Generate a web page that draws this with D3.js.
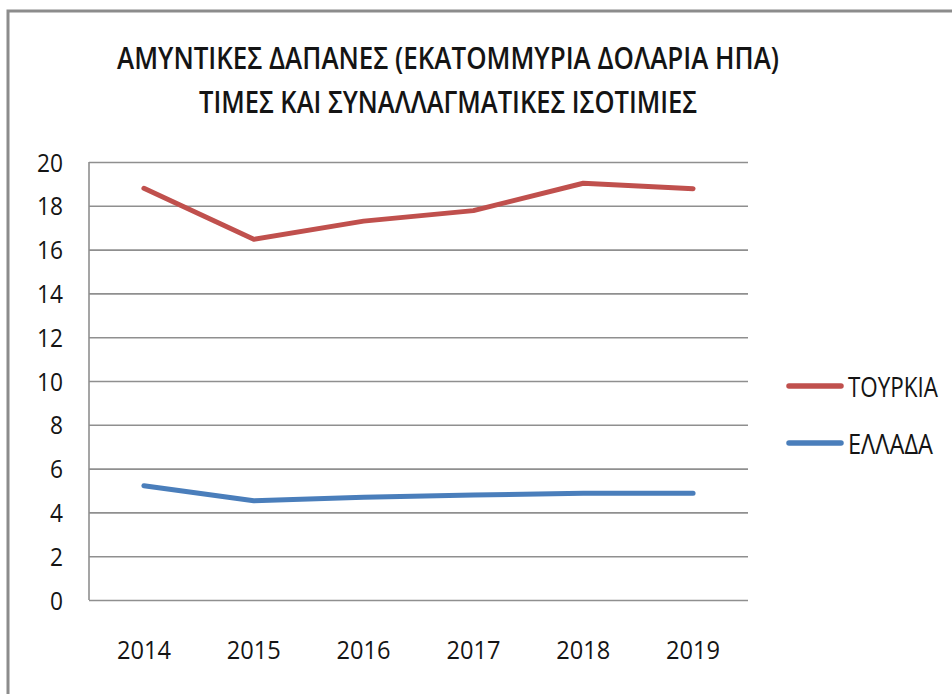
<!DOCTYPE html>
<html>
<head>
<meta charset="utf-8">
<script src="https://cdn.jsdelivr.net/npm/d3@7"></script>
<style>
  html, body { margin: 0; padding: 0; background: #fff; }
  svg { display: block; }
  text { font-family: "Open Sans", "Noto Sans", sans-serif; fill: #141414; }
</style>
</head>
<body>
<svg id="chart" width="952" height="694"></svg>
<script>
// Defence spending, million USD (constant prices & exchange rates)
const years = ["2014", "2015", "2016", "2017", "2018", "2019"];
const turkey = [18.8, 16.47, 17.3, 17.78, 19.03, 18.78];
const greece = [5.22, 4.53, 4.69, 4.79, 4.88, 4.88];
const yTicks = [0, 2, 4, 6, 8, 10, 12, 14, 16, 18, 20];
const seriesNames = ["ΤΟΥΡΚΙΑ", "ΕΛΛΑΔΑ"];
const seriesColors = ["#C0504D", "#4A7EBB"];
const titleLines = [
  "ΑΜΥΝΤΙΚΕΣ ΔΑΠΑΝΕΣ (ΕΚΑΤΟΜΜΥΡΙΑ ΔΟΛΑΡΙΑ ΗΠΑ)",
  "ΤΙΜΕΣ ΚΑΙ ΣΥΝΑΛΛΑΓΜΑΤΙΚΕΣ ΙΣΟΤΙΜΙΕΣ"
];

const svg = d3.select("#chart");

// outer chart frame (runs off the right and bottom edges)
svg.append("rect")
  .attr("x", 8).attr("y", 11)
  .attr("width", 1000).attr("height", 1000)
  .attr("fill", "#fff")
  .attr("stroke", "#8c8c8c")
  .attr("stroke-width", 3);

const plot = { left: 89, right: 748, top: 162, bottom: 600 };

const x = d3.scaleBand().domain(years).range([plot.left, plot.right]);
const y = d3.scaleLinear().domain([0, 20]).range([plot.bottom, plot.top]);

// narrow, tall digits: fixed width per character
const digitW = 13;

// title
const titleWidths = [662, 498];
svg.selectAll("text.title")
  .data(titleLines)
  .join("text")
  .attr("class", "title")
  .attr("x", 448)
  .attr("y", (d, i) => 69 + i * 44)
  .attr("text-anchor", "middle")
  .attr("font-size", 30)
  .attr("font-weight", 600)
  .attr("textLength", (d, i) => titleWidths[i])
  .attr("lengthAdjust", "spacingAndGlyphs")
  .text(d => d);

// horizontal gridlines + y labels
const yAxis = d3.axisLeft(y).tickValues(yTicks)
  .tickSize(-(plot.right - plot.left)).tickPadding(26).tickFormat(d3.format("d"));
const gy = svg.append("g")
  .attr("transform", `translate(${plot.left},0)`)
  .call(yAxis);
gy.select(".domain").remove();
gy.selectAll(".tick line").attr("stroke", "#8f8f8f").attr("stroke-width", 1.6);
gy.selectAll(".tick text")
  .attr("font-size", 25)
  .attr("fill", "#141414")
  .attr("dy", "0.36em")
  .attr("textLength", d => String(d).length * digitW)
  .attr("lengthAdjust", "spacingAndGlyphs")
  .style("font-family", "'Open Sans', sans-serif");

// vertical axis line
svg.append("line")
  .attr("x1", plot.left).attr("x2", plot.left)
  .attr("y1", y(20)).attr("y2", y(0))
  .attr("stroke", "#8f8f8f").attr("stroke-width", 1.6);

// x labels
const xAxis = d3.axisBottom(x).tickSize(0).tickPadding(41);
const gx = svg.append("g")
  .attr("transform", `translate(0,${plot.bottom})`)
  .call(xAxis);
gx.select(".domain").remove();
gx.selectAll(".tick text")
  .attr("font-size", 26)
  .attr("fill", "#141414")
  .attr("textLength", d => d.length * 13.5)
  .attr("lengthAdjust", "spacingAndGlyphs")
  .style("font-family", "'Open Sans', sans-serif");

// series lines
const line = d3.line()
  .x((d, i) => x(years[i]) + x.bandwidth() / 2)
  .y(d => y(d));

[turkey, greece].forEach((vals, k) => {
  svg.append("path")
    .datum(vals)
    .attr("d", line)
    .attr("fill", "none")
    .attr("stroke", seriesColors[k])
    .attr("stroke-width", 5)
    .attr("stroke-linejoin", "round")
    .attr("stroke-linecap", "round");
});

// legend (labels drawn at a smaller size, then stretched vertically)
const legendWidths = [90, 85];
const lg = svg.selectAll("g.legend")
  .data(seriesNames)
  .join("g")
  .attr("class", "legend")
  .attr("transform", (d, i) => `translate(0,${386 + i * 57})`);
lg.append("line")
  .attr("x1", 789).attr("x2", 841)
  .attr("y1", 0).attr("y2", 0)
  .attr("stroke", (d, i) => seriesColors[i])
  .attr("stroke-width", 5.5)
  .attr("stroke-linecap", "round");
lg.append("text")
  .attr("transform", "translate(848,11) scale(1,1.25)")
  .attr("font-size", 22)
  .attr("textLength", (d, i) => legendWidths[i])
  .attr("lengthAdjust", "spacingAndGlyphs")
  .text(d => d);
</script>
</body>
</html>
